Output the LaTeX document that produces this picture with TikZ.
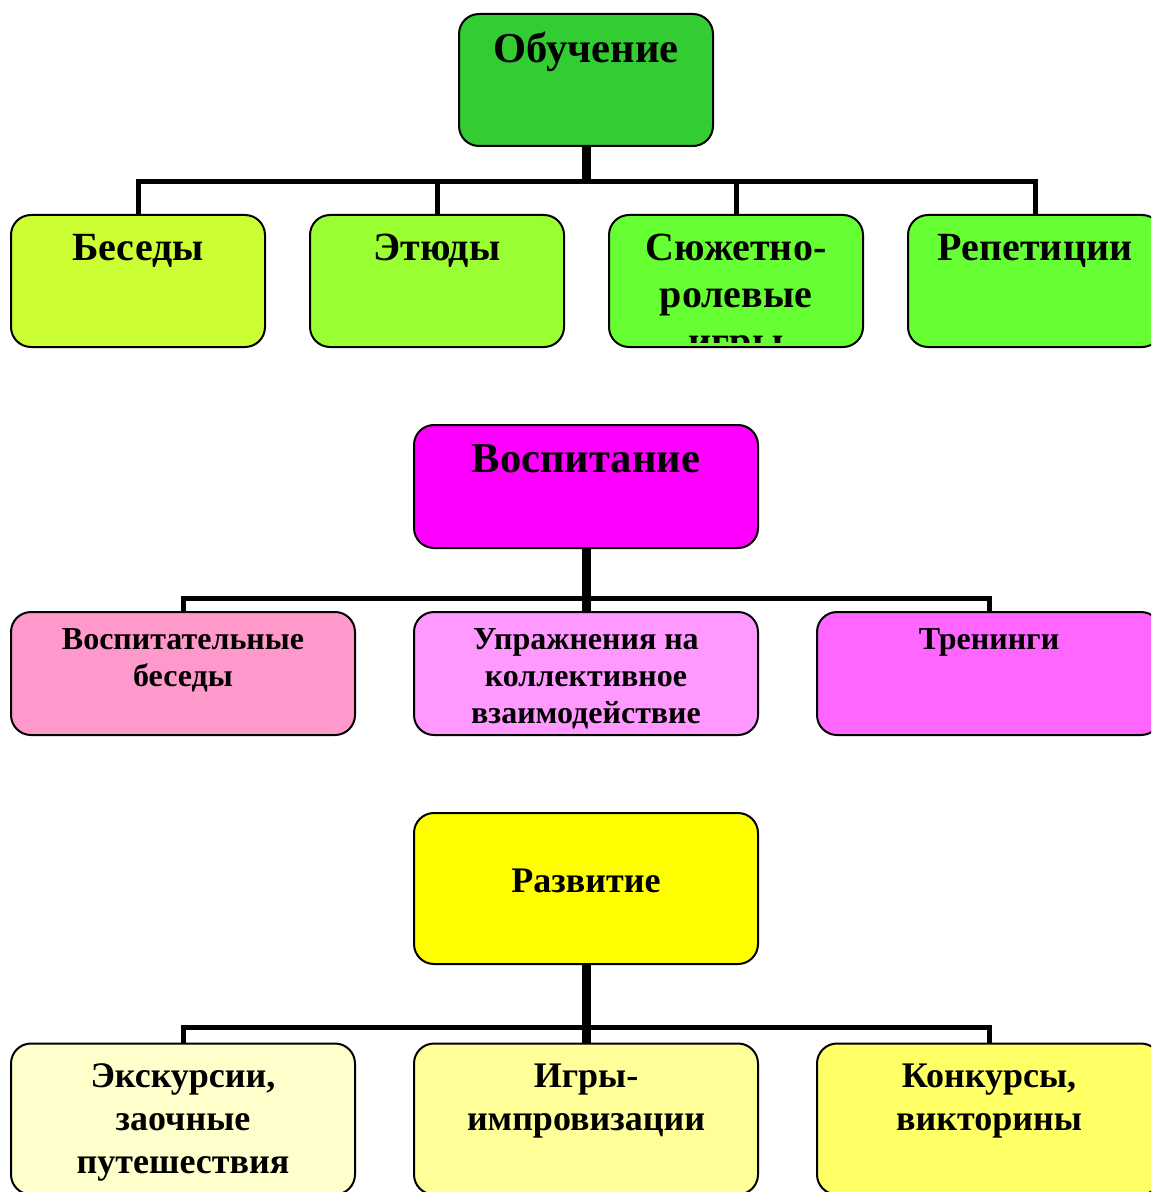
\documentclass[tikz,border=0pt]{standalone}
\usepackage{fontspec}
\setmainfont{Liberation Serif}
\usetikzlibrary{positioning}
\definecolor{obuchgreen}{HTML}{33CC33}
\definecolor{limeA}{HTML}{CCFF33}
\definecolor{limeB}{HTML}{99FF33}
\definecolor{limeC}{HTML}{66FF33}
\definecolor{magentaA}{HTML}{FF00FF}
\definecolor{pinkA}{HTML}{FF99CC}
\definecolor{pinkB}{HTML}{FF99FF}
\definecolor{pinkC}{HTML}{FF66FF}
\definecolor{yellowA}{HTML}{FFFF00}
\definecolor{yellowB}{HTML}{FFFFCC}
\definecolor{yellowC}{HTML}{FFFF99}
\definecolor{yellowD}{HTML}{FFFF66}
\tikzset{
box/.style = { rectangle, draw = black, line width = 1pt, rounded corners = 10pt, inner sep = 0pt },
narrow box/.style = { box, minimum width = 127pt, minimum height = 66pt },
wide box/.style = { box, minimum width = 172pt, minimum height = 61.5pt },
tall box/.style = { box, minimum width = 172pt, minimum height = 75.5pt },
caption/.style = { align = center, inner sep = 0pt, draw = none, fill = none },
head text/.style = { caption, font = \bfseries\fontsize{21.3}{24}\selectfont },
big text/.style = { caption, font = \bfseries\fontsize{20}{23.5}\selectfont },
small text/.style = { caption, font = \bfseries\fontsize{16}{18.5}\selectfont },
mid text/.style = { caption, font = \bfseries\fontsize{18}{21.5}\selectfont },
bar/.style = { line width = 2.5pt },
trunk/.style = { line width = 4.5pt },
}

\begin{document}
\begin{tikzpicture}[x=0.5pt, y=-0.5pt]
    \useasboundingbox (0,0) rectangle (1151,1192);
    \clip (0,0) rectangle (1151,1192);

    % Обучение
    \node[narrow box, fill = obuchgreen] (obuch) at (586,80) {};
    \node[head text, below = 9.5pt of obuch.north] (obuch-t) {Обучение};
    \node[narrow box, fill = limeA] (besedy) at (138,281) {};
    \node[narrow box, fill = limeB] (etyudy) at (437,281) {};
    \node[narrow box, fill = limeC] (syuzhet) at (736,281) {};
    \node[narrow box, fill = limeC] (repet) at (1035,281) {};
    \node[big text, below = 10pt of besedy.north] (besedy-t) {Беседы};
    \node[big text, below = 10pt of etyudy.north] (etyudy-t) {Этюды};
    \begin{scope}
      \clip[rounded corners = 10pt] ([yshift = 3pt]syuzhet.south west) rectangle (syuzhet.north east);
      \node[big text, below = 10pt of syuzhet.north] (syuzhet-t) {Сюжетно-\\ролевые\\игры};
    \end{scope}
    \node[big text, below = 10pt of repet.north] (repet-t) {Репетиции};
    \coordinate (j0) at (586,182);
    \draw[trunk] (obuch.south) -- (j0);
    \draw[bar] (besedy.north) |- (j0) -| (repet.north);
    \draw[bar] (etyudy.north) -- (etyudy.north |- j0);
    \draw[bar] (syuzhet.north) -- (syuzhet.north |- j0);

    % Воспитание
    \node[wide box, fill = magentaA] (vosp) at (586,486.5) {};
    \node[head text, below = 10pt of vosp.north] (vosp-t) {Воспитание};
    \node[wide box, fill = pinkA] (vbesedy) at (183,673.5) {};
    \node[wide box, fill = pinkB] (uprazh) at (586,673.5) {};
    \node[wide box, fill = pinkC] (trening) at (989,673.5) {};
    \node[small text, below = 8.5pt of vbesedy.north] (vbesedy-t) {Воспитательные\\беседы};
    \node[small text, below = 8.5pt of uprazh.north] (uprazh-t) {Упражнения на\\коллективное\\взаимодействие};
    \node[small text, below = 8.5pt of trening.north] (trening-t) {Тренинги};
    \coordinate (j1) at (586,598);
    \draw[trunk] (vosp.south) -- (uprazh.north);
    \draw[bar] (vbesedy.north) |- (j1) -| (trening.north);

    % Развитие
    \node[tall box, fill = yellowA] (razv) at (586,888.5) {};
    \node[mid text, below = 28.5pt of razv.north] (razv-t) {Развитие};
    \node[tall box, fill = yellowB] (ekskurs) at (183,1119) {};
    \node[tall box, fill = yellowC] (igry) at (586,1119) {};
    \node[tall box, fill = yellowD] (konkurs) at (989,1119) {};
    \node[mid text, below = 10.5pt of ekskurs.north] (ekskurs-t) {Экскурсии,\\заочные\\путешествия};
    \node[mid text, below = 10.5pt of igry.north] (igry-t) {Игры-\\импровизации};
    \node[mid text, below = 10.5pt of konkurs.north] (konkurs-t) {Конкурсы,\\викторины};
    \coordinate (j2) at (586,1027);
    \draw[trunk] (razv.south) -- (igry.north);
    \draw[bar] (ekskurs.north) |- (j2) -| (konkurs.north);
\end{tikzpicture}
\end{document}
